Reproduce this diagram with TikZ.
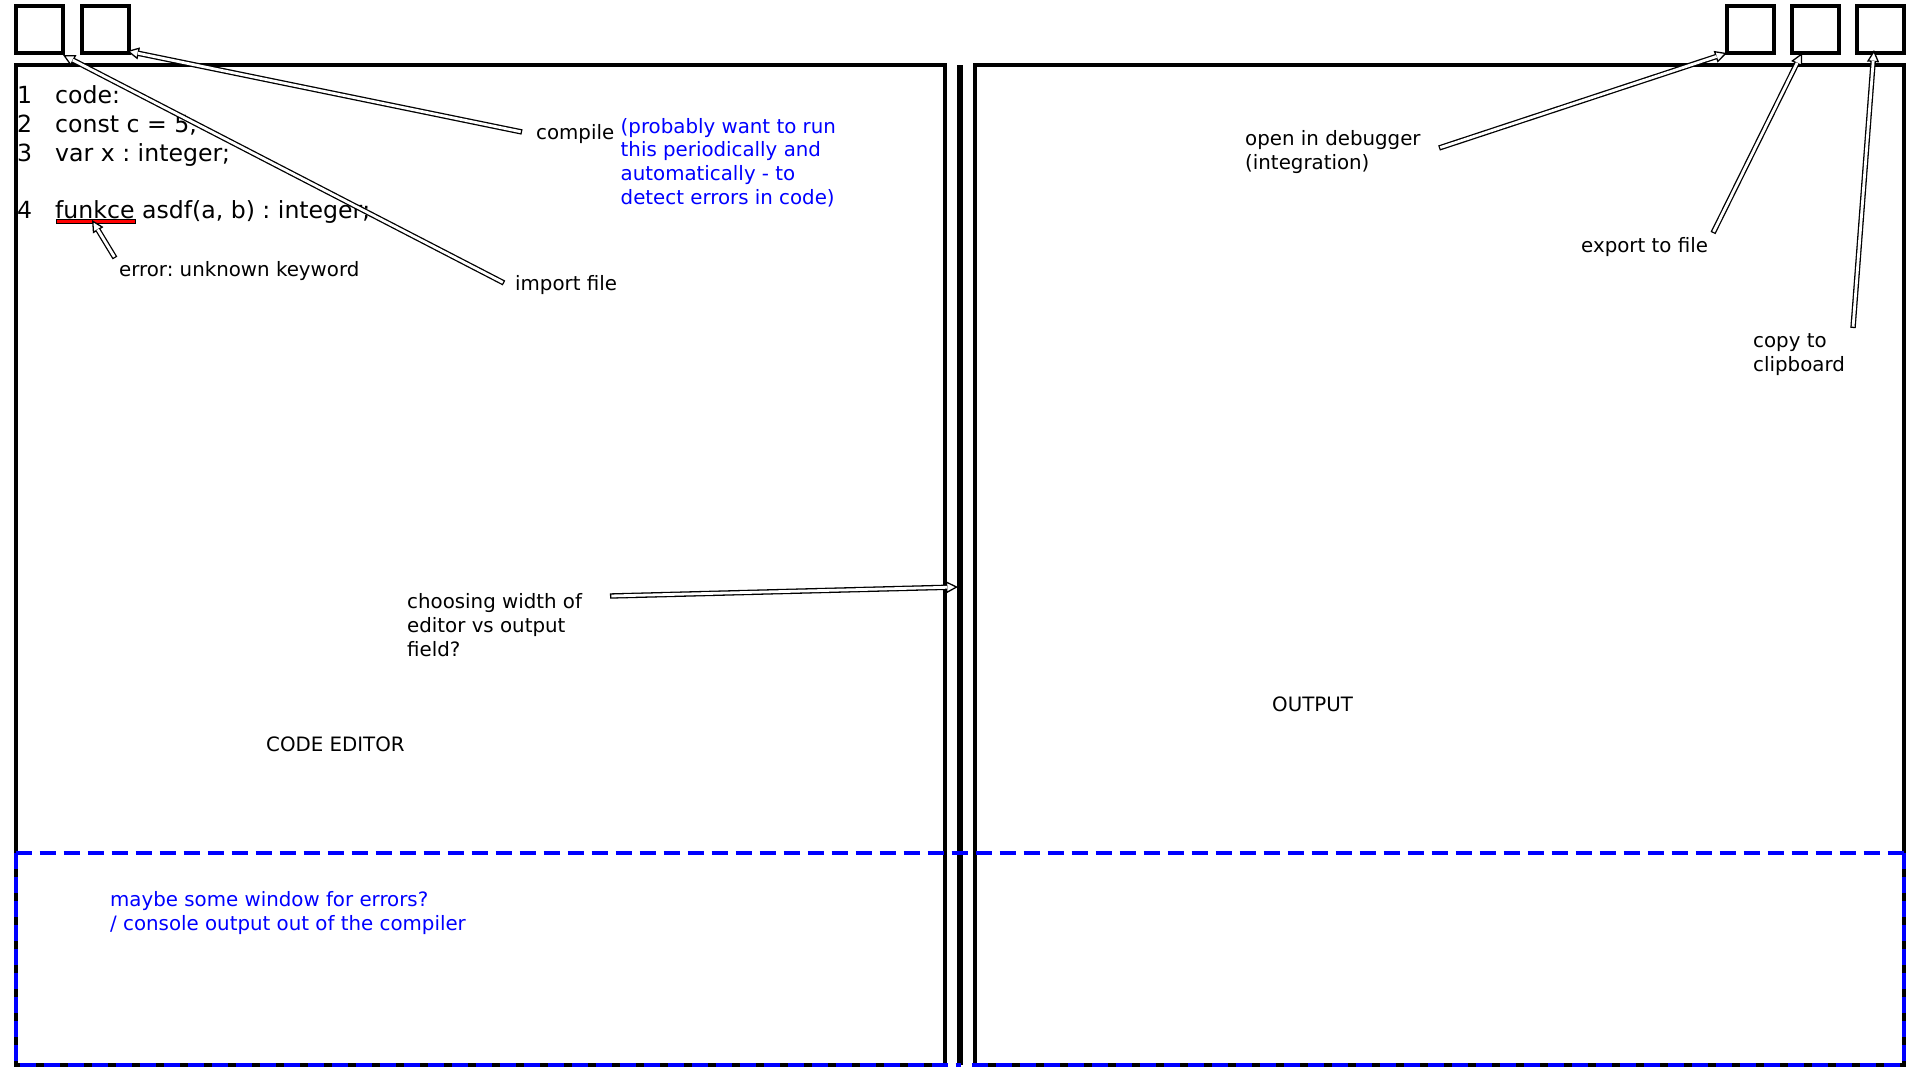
\documentclass[tikz,border=0pt]{standalone}
\usepackage{fontspec}
\setmainfont{DejaVu Sans}
\usetikzlibrary{arrows.meta}
\frenchspacing
\tikzset{
  panel/.style={draw, line width=4pt, inner sep=0pt, outer sep=0pt},
  btn/.style={draw, line width=4pt, minimum size=47pt, inner sep=0pt, outer sep=0pt},
  lbl/.style={inner sep=0pt, anchor=base west, align=left, font=\fontsize{19.8}{23.8}\selectfont},
  note/.style={lbl, text=blue},
  codeline/.style={inner sep=0pt, anchor=base west, font=\fontsize{23.6}{29}\selectfont},
  harrow/.style={line width=5.4pt,
    -{Triangle[length=12pt, width=12pt, line width=1.3pt, fill=white]},
    postaction={draw=white, line width=2.8pt, -, shorten <=1.3pt, shorten >=11pt}},
  bluedash/.style={draw=blue, line width=4pt, dash pattern=on 16pt off 8pt},
}
\begin{document}
\frenchspacing
\begin{tikzpicture}[x=1pt, y=-1pt]
\useasboundingbox (0,0) rectangle (1920,1080);
\fill[white] (0,0) rectangle (1920,1080);

% buttons
\node[btn] (b1) at (39.5,29.5) {};
\node[btn] (b2) at (105,29.5) {};
\node[btn] (b3) at (1750,29.5) {};
\node[btn] (b4) at (1815,29.5) {};
\node[btn] (b5) at (1880,29.5) {};

% panels
\node[panel, minimum width=929.5pt, minimum height=1000pt] (editor) at (480.25,565) {};
\node[panel, minimum width=929pt, minimum height=1000pt] (output) at (1439.5,565) {};
\coordinate (divtop) at (960,65);
\coordinate (divbot) at (960,1065);
\draw[line width=6pt] (divtop) -- (divbot);

% blue dashed console area
\coordinate (cTL) at (15.5,853);
\coordinate (cTR) at (1904,853);
\coordinate (cBL) at (15.5,1065);
\coordinate (cBM1) at (961,1065);
\coordinate (cBM2) at (969,1065);
\coordinate (cBR) at (1904,1065);
\draw[bluedash] (cTL) -- (cTR);
\draw[bluedash] (cTL) -- (cBL) -- (cBM1);
\draw[bluedash] (cTR) -- (cBR) -- (cBM2);

% code
\node[codeline] (l1) at (17,103) {\makebox[38pt][l]{1}code:};
\node[codeline] (l2) at (17,132) {\makebox[38pt][l]{2}const c = 5;};
\node[codeline] (l3) at (17,161) {\makebox[38pt][l]{3}var x : integer;};
\node[codeline] (l4) at (17,218) {\makebox[38pt][l]{4}funkce asdf(a, b) : integer;};
\node[draw=black, line width=0.8pt, fill=red, inner sep=0pt, minimum width=79pt, minimum height=4.5pt, anchor=north west] (err) at (55.5,218.5) {};

% labels (base west = baseline of the last line)
\node[lbl] (errlbl) at (119,276) {error: unknown keyword};
\node[lbl] (compile) at (536,139) {compile};
\node[note] (periodic) at (620.5,204.5) {(probably want to run\\this periodically and\\automatically - to\\detect errors in code)};
\node[lbl] (import) at (515,290) {import file};
\node[lbl] (debug) at (1245,169.5) {open in debugger\\(integration)};
\node[lbl] (export) at (1581,252) {export to file};
\node[lbl] (copy) at (1753,371) {copy to\\clipboard};
\node[lbl] (width) at (407,656.5) {choosing width of\\editor vs output\\field?};
\node[lbl] (edlbl) at (266,751.5) {CODE EDITOR};
\node[lbl] (outlbl) at (1272,711) {OUTPUT};
\node[note] (console) at (110,930) {maybe some window for errors?\\/ console output out of the compiler};

% arrows
\coordinate (tErr) at (115,258);   \coordinate (hErr) at (92,220);
\coordinate (tCompile) at (522,132); \coordinate (hCompile) at (127,51);
\coordinate (tImport) at (504,283);  \coordinate (hImport) at (63,55);
\coordinate (tDebug) at (1439,148);  \coordinate (hDebug) at (1727,53);
\coordinate (tExport) at (1713,233); \coordinate (hExport) at (1802,53);
\coordinate (tCopy) at (1853,328);   \coordinate (hCopy) at (1874,50);
\coordinate (tWidth) at (610,596);   \coordinate (hWidth) at (958,587);
\draw[harrow] (tErr) -- (hErr);
\draw[harrow] (tCompile) -- (hCompile);
\draw[harrow] (tImport) -- (hImport);
\draw[harrow] (tDebug) -- (hDebug);
\draw[harrow] (tExport) -- (hExport);
\draw[harrow] (tCopy) -- (hCopy);
\draw[harrow] (tWidth) -- (hWidth);
\end{tikzpicture}
\end{document}
